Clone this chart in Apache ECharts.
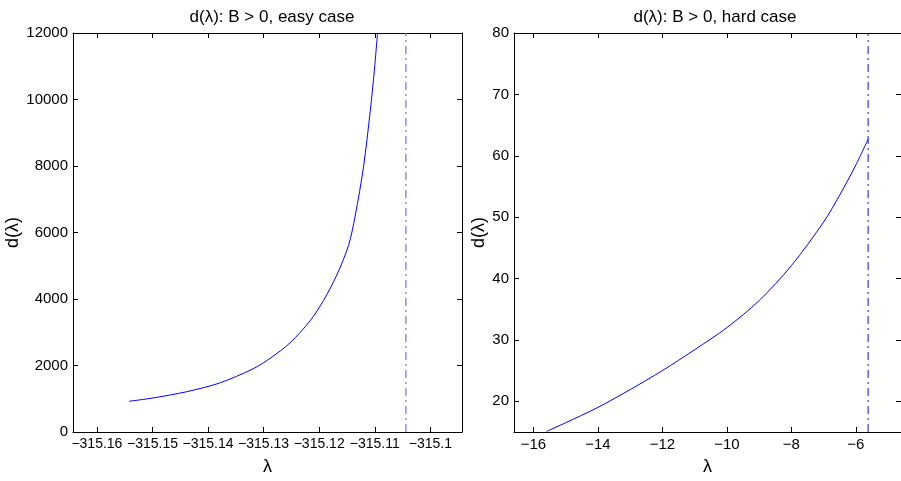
<!DOCTYPE html>
<html>
<head>
<meta charset="utf-8">
<script src="https://cdn.jsdelivr.net/npm/echarts@6/dist/echarts.min.js"></script>
<style>
  html, body { margin: 0; padding: 0; background: #fff; }
  #chart { width: 901px; height: 481px; }
</style>
</head>
<body>
<div id="chart"></div>
<script>
// easy case (left)
const easyLambda = [-315.1542, -315.1499, -315.1439, -315.1379, -315.1319, -315.12885, -315.12525, -315.12164,
  -315.11924, -315.11683, -315.11473, -315.11353, -315.11203, -315.11082, -315.11005, -315.1095];
const easyD = [924, 1024, 1210, 1475, 1900, 2213, 2680, 3343, 3950, 4721, 5606, 6492, 7967, 9640, 10918, 12000];
const easyPole = -315.1044;
const easyXTicks = [-315.16, -315.15, -315.14, -315.13, -315.12, -315.11, -315.1];
const easyYTicks = [0, 2000, 4000, 6000, 8000, 10000, 12000];

// hard case (right)
const hardLambda = [-15.59, -15, -14, -13, -12, -11, -10, -9, -8, -7, -6.5, -6, -5.62];
const hardD = [15.1, 16.5, 19.0, 21.9, 25.0, 28.4, 32.0, 36.4, 42.1, 49.2, 53.6, 58.5, 62.7];
const hardPole = -5.62;
const hardXTicks = [-16, -14, -12, -10, -8, -6];
const hardYTicks = [20, 30, 40, 50, 60, 70, 80];

const FONT = 'Liberation Sans, Arial, Helvetica, sans-serif';
const minus = v => String(+(+v).toFixed(4)).replace('-', '\u2212');

function xAx(idx, pos, min, max, ticks, withLabel, size) {
  return {
    type: 'value', gridIndex: idx, position: pos, min: min, max: max,
    name: withLabel ? '\u03bb' : '', nameLocation: 'middle', nameGap: 26,
    nameTextStyle: { color: '#000', fontSize: 18, fontFamily: FONT },
    axisLine: { onZero: false, lineStyle: { color: '#000', width: 1 } },
    axisTick: { inside: true, length: 5, lineStyle: { color: '#000' }, customValues: ticks },
    axisLabel: { show: withLabel, customValues: ticks, color: '#000', fontSize: size, fontFamily: FONT, margin: 5, formatter: minus },
    splitLine: { show: false }
  };
}
function yAx(idx, pos, min, max, ticks, withLabel, gap) {
  return {
    type: 'value', gridIndex: idx, position: pos, min: min, max: max,
    name: withLabel ? 'd(\u03bb)' : '', nameLocation: 'middle', nameGap: gap,
    nameTextStyle: { color: '#000', fontSize: 18, fontFamily: FONT },
    axisLine: { onZero: false, lineStyle: { color: '#000', width: 1 } },
    axisTick: { inside: true, length: 5, lineStyle: { color: '#000' }, customValues: ticks },
    axisLabel: { show: withLabel, customValues: ticks, color: '#000', fontSize: 15, fontFamily: FONT, margin: 5, formatter: minus },
    splitLine: { show: false }
  };
}

const chart = echarts.init(document.getElementById('chart'));
chart.setOption({
  animation: false,
  backgroundColor: '#fff',
  title: [
    { text: 'd(\u03bb): B > 0, easy case', left: 267, top: 4, textAlign: 'center',
      textStyle: { color: '#000', fontSize: 17, fontWeight: 'normal', fontFamily: FONT } },
    { text: 'd(\u03bb): B > 0, hard case', left: 710, top: 4, textAlign: 'center',
      textStyle: { color: '#000', fontSize: 17, fontWeight: 'normal', fontFamily: FONT } }
  ],
  grid: [
    { left: 73, top: 33, width: 389, height: 407 },
    { left: 514, top: 33, width: 388, height: 407 }
  ],
  xAxis: [
    xAx(0, 'bottom', -315.1643, -315.0943, easyXTicks, true, 14),
    xAx(0, 'top', -315.1643, -315.0943, easyXTicks, false, 14),
    xAx(1, 'bottom', -16.6, -4.6, hardXTicks, true, 15),
    xAx(1, 'top', -16.6, -4.6, hardXTicks, false, 15)
  ],
  yAxis: [
    yAx(0, 'left', 0, 12000, easyYTicks, true, 40),
    yAx(0, 'right', 0, 12000, easyYTicks, false, 0),
    yAx(1, 'left', 15, 80, hardYTicks, true, 24),
    yAx(1, 'right', 15, 80, hardYTicks, false, 0)
  ],
  series: [
    { type: 'line', xAxisIndex: 0, yAxisIndex: 0, showSymbol: false, smooth: 0.3, clip: true,
      data: easyLambda.map((x, i) => [x, easyD[i]]),
      lineStyle: { color: '#0000ff', width: 1 } },
    { type: 'line', xAxisIndex: 0, yAxisIndex: 0, showSymbol: false,
      data: [[easyPole, 0], [easyPole, 12000]],
      lineStyle: { color: '#7070ff', width: 1.2, type: [8, 4, 2, 4] } },
    { type: 'line', xAxisIndex: 2, yAxisIndex: 2, showSymbol: false, smooth: 0.3, clip: true,
      data: hardLambda.map((x, i) => [x, hardD[i]]),
      lineStyle: { color: '#0000ff', width: 1 } },
    { type: 'line', xAxisIndex: 2, yAxisIndex: 2, showSymbol: false,
      data: [[hardPole, 15], [hardPole, 80]],
      lineStyle: { color: '#1010d0', width: 1, type: [8, 4, 2, 4] } }
  ]
});
</script>
</body>
</html>
